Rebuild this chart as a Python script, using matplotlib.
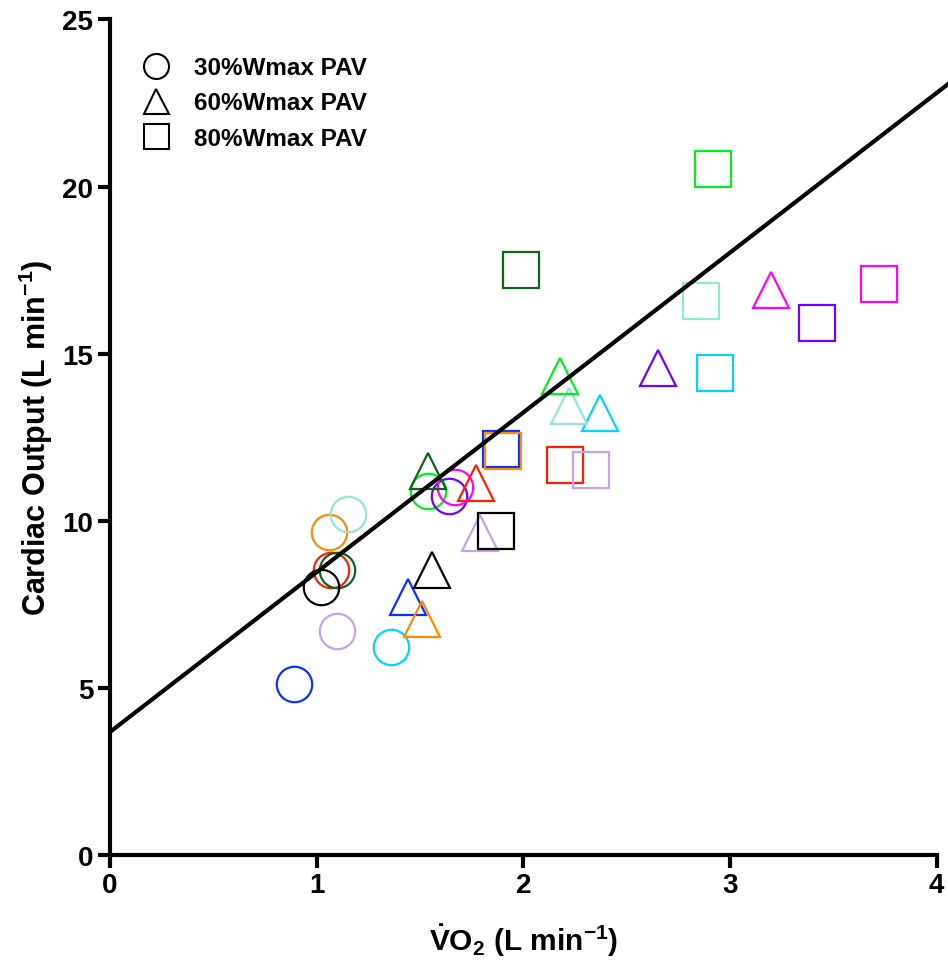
import matplotlib
matplotlib.use("Agg")
import matplotlib.pyplot as plt
from matplotlib.lines import Line2D

plt.rcParams["font.family"] = ["Liberation Sans", "DejaVu Sans"]
plt.rcParams["font.weight"] = "bold"
plt.rcParams["mathtext.fontset"] = "custom"
plt.rcParams["mathtext.rm"] = "Liberation Sans:bold"
plt.rcParams["mathtext.it"] = "Liberation Sans:bold"
plt.rcParams["mathtext.bf"] = "Liberation Sans:bold"
plt.rcParams["mathtext.default"] = "bf"

# subject colours (one per participant)
subject_colors = ["#0A32FF", "#FF8A00", "#FF1E00", "#0B6418", "#000000", "#C3A3EA",
                  "#00D4FF", "#92E6D6", "#00EE1C", "#7000FF", "#FF00FF"]

# VO2 (L/min) and cardiac output (L/min) per intensity
vo2_30 = [0.89, 1.06, 1.07, 1.10, 1.02, 1.10, 1.36, 1.15, 1.54, 1.64, 1.67]
co_30 = [5.11, 9.66, 8.52, 8.52, 8.01, 6.70, 6.22, 10.2, 10.9, 10.75, 11.0]

vo2_60 = [1.44, 1.51, 1.77, 1.54, 1.56, 1.79, 2.37, 2.22, 2.18, 2.65, 3.20]
co_60 = [7.71, 7.06, 11.14, 11.50, 8.53, 9.63, 13.23, 13.43, 14.33, 14.58, 16.90]

vo2_80 = [1.89, 1.90, 2.20, 1.99, 1.87, 2.33, 2.93, 2.86, 2.92, 3.42, 3.72]
co_80 = [12.15, 12.10, 11.66, 17.49, 9.68, 11.52, 14.43, 16.57, 20.51, 15.92, 17.07]

# regression line
line_intercept = 3.68
line_slope = 4.78
line_x = [0, 4.2]

legend_labels = ["30%Wmax PAV", "60%Wmax PAV", "80%Wmax PAV"]

fig = plt.figure(figsize=(9.48, 9.7), dpi=100)
ax = fig.add_axes([0.116, 0.1175, 0.872, 0.8615])

for xs, ys, mk in [(vo2_30, co_30, "o"), (vo2_60, co_60, "^"), (vo2_80, co_80, "s")]:
    for x, y, c in zip(xs, ys, subject_colors):
        ax.plot(x, y, marker=mk, markersize=25.5, markerfacecolor="none",
                markeredgecolor=c, markeredgewidth=1.6, linestyle="none")

ax.plot(line_x, [line_intercept + line_slope * x for x in line_x],
        color="black", lw=3, clip_on=False, solid_capstyle="butt")

ax.set_xlim(0, 4)
ax.set_ylim(0, 25)
ax.set_xticks([0, 1, 2, 3, 4])
ax.set_yticks([0, 5, 10, 15, 20, 25])
for s in ["top", "right"]:
    ax.spines[s].set_visible(False)
for s in ["left", "bottom"]:
    ax.spines[s].set_linewidth(3)
ax.tick_params(width=3, length=9, labelsize=20, pad=3)
for lbl in ax.get_xticklabels() + ax.get_yticklabels():
    lbl.set_fontweight("bold")

ax.set_xlabel(r"$\dot{V}$O$_2$ (L min$^{-1}$)", fontsize=21.5, fontweight="bold", labelpad=17)
ax.set_ylabel(r"Cardiac Output (L min$^{-1}$)", fontsize=22, fontweight="bold", labelpad=5)

handles = [Line2D([0], [0], marker=m, color="black", markerfacecolor="none",
                  markersize=18, markeredgewidth=1.5, linestyle="none", label=l)
           for m, l in zip(["o", "^", "s"], legend_labels)]
ax.legend(handles=handles, loc="upper left", bbox_to_anchor=(0.0, 0.982),
          frameon=False, labelspacing=0.5, handletextpad=0.55,
          prop={"weight": "bold", "size": 17.5})

fig.savefig("out.png", dpi=100)
